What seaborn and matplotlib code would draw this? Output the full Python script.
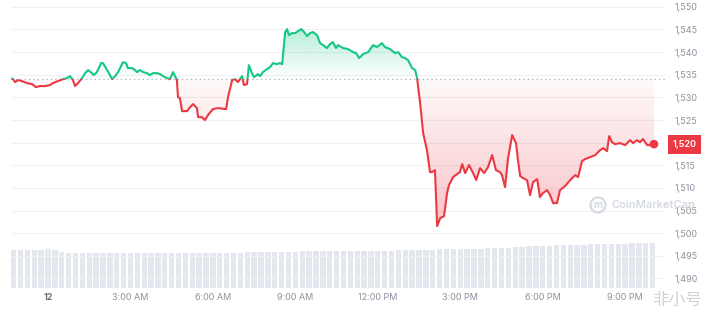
import numpy as np
import pandas as pd
import matplotlib
matplotlib.use("Agg")
import matplotlib.pyplot as plt
import seaborn as sns
from matplotlib.patches import Rectangle, PathPatch, Circle
from matplotlib.path import Path
from matplotlib.colors import to_rgb
import matplotlib.transforms as mtransforms

# ---------------- data ----------------
hours = [-1.32, -1.27, -1.20, -1.09, -0.95, -0.76, -0.58, -0.44, -0.29, -0.11, 0.07, 0.18, 0.36, 0.55, 0.69,
         0.80, 0.91, 0.98, 1.09, 1.24, 1.35, 1.46, 1.60, 1.67, 1.78, 1.93, 2.00, 2.11, 2.22, 2.33, 2.44, 2.55,
         2.66, 2.73, 2.84, 2.91, 3.06, 3.17, 3.24, 3.35, 3.46, 3.60, 3.71, 3.82, 3.97, 4.08, 4.19, 4.33, 4.44,
         4.55, 4.69, 4.73, 4.80, 4.88, 5.06, 5.17, 5.28, 5.42, 5.46, 5.60, 5.71, 5.82, 6.00, 6.19, 6.48, 6.55,
         6.70, 6.81, 6.91, 7.06, 7.13, 7.24, 7.31, 7.42, 7.50, 7.64, 7.72, 7.82, 7.97, 8.08, 8.19, 8.33, 8.44,
         8.52, 8.63, 8.70, 8.77, 8.88, 8.99, 9.10, 9.21, 9.32, 9.43, 9.53, 9.64, 9.79, 9.90, 10.01, 10.15, 10.26,
         10.37, 10.48, 10.55, 10.74, 10.92, 11.10, 11.21, 11.32, 11.46, 11.65, 11.83, 11.97, 12.15, 12.26, 12.45,
         12.63, 12.74, 12.88, 12.99, 13.10, 13.25, 13.36, 13.43, 13.54, 13.65, 13.79, 13.90, 13.97, 14.08, 14.16,
         14.27, 14.41, 14.52, 14.59, 14.74, 14.88, 14.99, 15.07, 15.18, 15.32, 15.47, 15.58, 15.72, 15.87, 16.01,
         16.16, 16.30, 16.45, 16.52, 16.63, 16.74, 16.89, 17.03, 17.10, 17.18, 17.29, 17.43, 17.54, 17.65, 17.80,
         17.90, 18.01, 18.16, 18.27, 18.38, 18.52, 18.63, 18.81, 19.00, 19.18, 19.29, 19.43, 19.54, 19.72, 19.91,
         20.09, 20.20, 20.34, 20.42, 20.52, 20.63, 20.82, 21.00, 21.18, 21.29, 21.43, 21.54, 21.65, 21.80, 21.91,
         21.98, 22.05]
price = [1534.18, 1534.03, 1533.37, 1533.81, 1533.59, 1533.15, 1532.93, 1532.27, 1532.49, 1532.49, 1532.71,
         1533.15, 1533.59, 1534.03, 1534.25, 1534.69, 1533.81, 1532.49, 1533.15, 1534.25, 1535.35, 1536.02,
         1535.35, 1534.91, 1535.58, 1537.56, 1537.56, 1536.46, 1535.35, 1534.03, 1534.69, 1535.58, 1536.90,
         1537.78, 1537.56, 1536.46, 1536.46, 1536.02, 1535.58, 1536.02, 1535.58, 1535.35, 1534.91, 1535.35,
         1535.35, 1535.13, 1534.69, 1534.25, 1534.03, 1535.58, 1533.81, 1530.05, 1529.83, 1526.96, 1526.96,
         1527.84, 1528.51, 1527.62, 1525.63, 1525.63, 1524.97, 1526.08, 1527.40, 1527.62, 1527.40, 1530.05,
         1533.81, 1534.03, 1533.37, 1534.69, 1532.71, 1532.93, 1537.12, 1535.35, 1534.47, 1535.13, 1534.69,
         1535.58, 1536.24, 1536.68, 1537.56, 1537.34, 1537.56, 1537.34, 1544.41, 1545.07, 1543.75, 1544.19,
         1544.19, 1544.63, 1545.07, 1544.41, 1543.53, 1544.19, 1544.41, 1543.75, 1541.98, 1541.54, 1540.88,
         1541.76, 1542.20, 1540.88, 1541.54, 1540.88, 1540.66, 1539.99, 1539.77, 1538.67, 1539.55, 1539.99,
         1541.54, 1541.10, 1541.98, 1541.10, 1540.66, 1539.77, 1539.99, 1538.89, 1538.67, 1538.23, 1536.46,
         1536.02, 1534.25, 1528.73, 1522.10, 1518.34, 1513.49, 1513.49, 1513.93, 1501.56, 1503.33, 1503.77,
         1508.85, 1510.62, 1512.38, 1513.05, 1513.49, 1515.26, 1513.27, 1515.04, 1513.27, 1511.73, 1514.38,
         1513.27, 1514.60, 1517.25, 1513.93, 1513.49, 1512.83, 1510.18, 1516.58, 1521.66, 1519.89, 1516.14,
         1512.61, 1512.16, 1511.72, 1508.41, 1511.28, 1511.94, 1507.97, 1508.85, 1509.51, 1508.41, 1506.64,
         1506.64, 1509.51, 1510.40, 1511.72, 1512.83, 1512.39, 1515.92, 1516.36, 1516.80, 1517.25, 1518.35,
         1518.79, 1518.13, 1521.44, 1520.11, 1519.67, 1519.89, 1519.45, 1520.55, 1519.89, 1520.55, 1520.11,
         1520.78, 1519.45, 1519.45, 1520.11, 1519.67]
open_price = 1534.0

vol_start_hour = -1.25
vol_step_hours = 0.25
volume = [380, 378, 382, 380, 385, 388, 384, 365,
          352, 350, 351, 349, 350, 352, 350, 351, 350, 349, 351, 350, 352, 350,
          351, 350, 349, 350, 352, 351, 350, 351, 352, 353, 354, 355, 356, 357,
          360, 361, 362, 363, 364, 365, 366, 367, 368, 369, 370, 370, 371, 372,
          372, 373, 374, 374, 375, 375,
          378, 380, 381, 382, 384, 385, 386, 388, 389, 390, 392, 393, 394, 396,
          397, 398, 400,
          410, 413, 416, 419, 421, 424, 426, 428, 430, 432, 435,
          440, 441, 442, 443, 444, 445, 446, 447, 447, 448]

y_ticks = [1490, 1495, 1500, 1505, 1510, 1515, 1520, 1525, 1530, 1535, 1540, 1545, 1550]
x_ticks = [0, 3, 6, 9, 12, 15, 18, 21]
x_labels = ["12", "3:00 AM", "6:00 AM", "9:00 AM", "12:00 PM", "3:00 PM", "6:00 PM", "9:00 PM"]
price_tag = "1,520"

assert len(hours) == len(price)

# ---------------- style ----------------
GREEN = "#16c784"
RED = "#ea3943"
GRAY_TXT = "#8a939f"

sns.set_theme(style="white")
plt.rcParams["font.family"] = ["Inter", "Noto Sans CJK SC", "DejaVu Sans"]

W, H = 719, 318
fig = plt.figure(figsize=(W / 100, H / 100), dpi=100)
fig.patch.set_facecolor("white")
rect = [11 / W, (H - 288) / H, 654 / W, 288 / H]
axv = fig.add_axes(rect)
ax = fig.add_axes(rect, sharex=axv)
ax.patch.set_alpha(0)

xmin, xmax = -1.346, 22.45
ymin, ymax = 1487.9, 1551.5

# volume bars
vol_df = pd.DataFrame({"t": vol_start_hour + vol_step_hours * np.arange(len(volume)), "v": volume})
sns.barplot(data=vol_df, x="t", y="v", native_scale=True, width=0.78, color="#e4e8ee",
            saturation=1, edgecolor="none", ax=axv)
axv.set_ylim(0, 2880)
axv.set_axis_off()

# grid
for yt in y_ticks:
    ax.axhline(yt, color="#f0f1f4", lw=0.8, zorder=0)

df = pd.DataFrame({"t": hours, "p": price})

# gradient fills
def gradient_fill(mask, color, y_lo, y_hi, a_lo, a_hi):
    poly = ax.fill_between(hours, price, open_price, where=mask, interpolate=True,
                           facecolor="none", edgecolor="none")
    path = Path.make_compound_path(*poly.get_paths())
    patch = PathPatch(path, transform=ax.transData, facecolor="none", edgecolor="none")
    ax.add_patch(patch)
    n = 256
    img = np.zeros((n, 1, 4))
    img[:, 0, :3] = to_rgb(color)
    img[:, 0, 3] = np.linspace(a_lo, a_hi, n)
    im = ax.imshow(img, extent=[xmin, xmax, y_lo, y_hi], origin="lower", aspect="auto",
                   interpolation="bilinear", zorder=1)
    im.set_clip_path(patch)

p_arr = np.array(price)
gradient_fill(p_arr >= open_price, GREEN, open_price, max(price), 0.0, 0.32)
gradient_fill(p_arr <= open_price, RED, min(price), open_price, 0.30, 0.03)

# baseline
ax.axhline(open_price, color="#a7afbb", lw=0.9, ls=(0, (1, 2.5)), zorder=2)

# price line split into green / red by clipping
sns.lineplot(data=df, x="t", y="p", color=GREEN, lw=1.5, estimator=None, sort=False, ax=ax, zorder=3)
sns.lineplot(data=df, x="t", y="p", color=RED, lw=1.5, estimator=None, sort=False, ax=ax, zorder=3)
lines = ax.get_lines()[-2:]
lines[0].set_clip_path(Rectangle((xmin, open_price), xmax - xmin, 200, transform=ax.transData))
lines[1].set_clip_path(Rectangle((xmin, open_price - 200), xmax - xmin, 200, transform=ax.transData))

sns.scatterplot(x=[hours[-1]], y=[price[-1]], color=RED, s=38, edgecolor="none", ax=ax, zorder=4)

ax.set_xlim(xmin, xmax)
ax.set_ylim(ymin, ymax)
ax.set_xlabel("")
ax.set_ylabel("")
for s in ax.spines.values():
    s.set_visible(False)

ax.yaxis.tick_right()
ax.set_yticks(y_ticks)
ax.set_yticklabels(["" if v == 1520 else f"{v:,}" for v in y_ticks])
ax.tick_params(axis="y", length=0, pad=7, labelsize=6.5, labelcolor=GRAY_TXT)
ax.set_xticks(x_ticks)
ax.set_xticklabels(x_labels)
ax.tick_params(axis="x", length=0, pad=3.5, labelsize=6.5, labelcolor=GRAY_TXT)
ax.get_xticklabels()[0].set_fontweight("bold")
ax.get_xticklabels()[0].set_color("#6b7588")

# current price tag
trans = mtransforms.blended_transform_factory(ax.transAxes, ax.transData)
ax.text(1.0115, price[-1], price_tag, transform=trans, ha="left", va="center", fontsize=6.5,
        color="white", fontweight="semibold",
        bbox=dict(boxstyle="square,pad=0.55", fc=RED, ec="none"))

# watermarks (they sit over the axis labels in the reference too)
fig.text(612 / W, 1 - 205 / H, "CoinMarketCap", ha="left", va="center", fontsize=8,
         color="#d5d9e0", fontweight="semibold")
fig.add_artist(Circle((598, H - 205), 7.5, transform=mtransforms.IdentityTransform(),
                      fill=False, ec="#d5d9e0", lw=1.6))
fig.text(598 / W, 1 - 205 / H, "m", ha="center", va="center", fontsize=7, color="#d5d9e0",
         fontweight="bold")
fig.text(652 / W, 1 - 300 / H, "非小号", ha="left", va="center", fontsize=12, color="#cfd2d6",
         family=["Noto Sans CJK SC", "DejaVu Sans"])

fig.savefig("out.png", dpi=100, facecolor="white")
